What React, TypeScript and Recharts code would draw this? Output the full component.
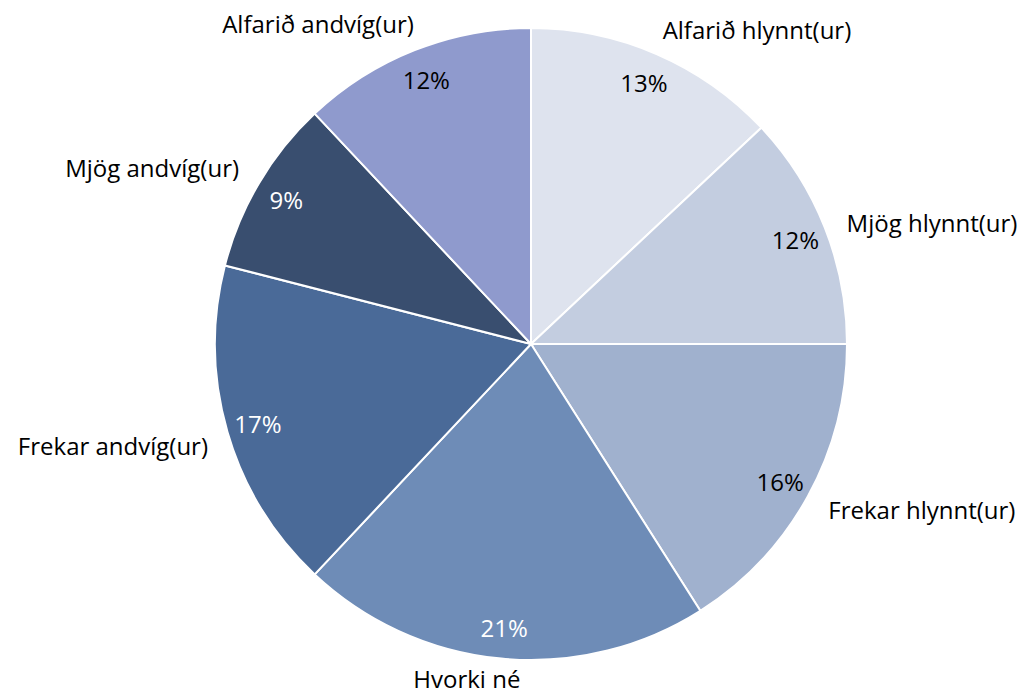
import React from 'react';
import { PieChart, Pie, Cell } from 'recharts';

const categories = [
  'Alfarið hlynnt(ur)',
  'Mjög hlynnt(ur)',
  'Frekar hlynnt(ur)',
  'Hvorki né',
  'Frekar andvíg(ur)',
  'Mjög andvíg(ur)',
  'Alfarið andvíg(ur)',
];
const shares = [13, 12, 16, 21, 17, 9, 12];

const colors = ['#DEE3EE', '#C3CDE0', '#A0B1CE', '#6E8CB7', '#4A6A98', '#394E6F', '#8F9ACD'];
const pctColors = ['#000', '#000', '#000', '#fff', '#fff', '#fff', '#000'];
// outside label spots, relative to the centre in units of the radius
const labelSpots = [
  [0.715, -0.994],
  [1.269, -0.386],
  [1.237, 0.525],
  [-0.203, 1.06],
  [-1.323, 0.32],
  [-1.199, -0.557],
  [-0.674, -1.013],
];

const data = categories.map((name, i) => ({ name, value: shares[i] }));

const RAD = Math.PI / 180;
const FONT = '"Open Sans", Lato, sans-serif';

const renderLabel = (props: any) => {
  const { cx, cy, midAngle, outerRadius, index } = props;
  const r = outerRadius * 0.9;
  const px = cx + r * Math.cos(-midAngle * RAD);
  const py = cy + r * Math.sin(-midAngle * RAD);
  const [fx, fy] = labelSpots[index];
  return (
    <g>
      <text x={px} y={py} textAnchor="middle" dominantBaseline="central" fill={pctColors[index]} fontSize={24} fontFamily={FONT}>
        {`${shares[index]}%`}
      </text>
      <text x={cx + fx * outerRadius} y={cy + fy * outerRadius} textAnchor="middle" dominantBaseline="central" fill="#000" fontSize={24} fontFamily={FONT}>
        {categories[index]}
      </text>
    </g>
  );
};

export default function App() {
  return (
    <div style={{ position: 'absolute', left: 0, top: 0, width: 1030, height: 696, background: '#fff', overflow: 'hidden' }}>
      <PieChart width={1030} height={696} margin={{ top: 0, right: 0, bottom: 0, left: 0 }}>
        <Pie
          data={data}
          dataKey="value"
          nameKey="name"
          cx={531}
          cy={344}
          outerRadius={316}
          startAngle={90}
          endAngle={-270}
          stroke="#fff"
          strokeWidth={2}
          label={renderLabel}
          labelLine={false}
          isAnimationActive={false}
        >
          {data.map((d, i) => (
            <Cell key={d.name} fill={colors[i]} />
          ))}
        </Pie>
      </PieChart>
    </div>
  );
}
